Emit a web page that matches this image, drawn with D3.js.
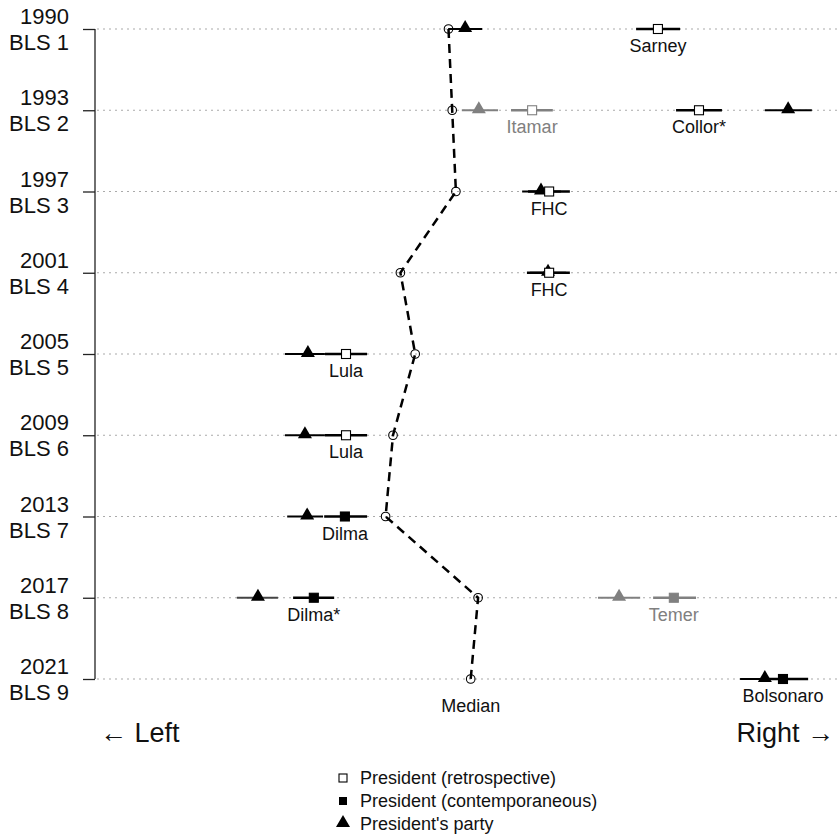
<!DOCTYPE html>
<html><head><meta charset="utf-8">
<script src="https://cdn.jsdelivr.net/npm/d3@7/dist/d3.min.js"></script>
<style>body{margin:0;background:#fff}svg{display:block}text{font-family:"Liberation Sans",Arial,sans-serif}</style>
</head><body><svg id="c" width="838" height="835"></svg>
<script>
// ---- data ----
const years = ["1990","1993","1997","2001","2005","2009","2013","2017","2021"];
const surveys = ["BLS 1","BLS 2","BLS 3","BLS 4","BLS 5","BLS 6","BLS 7","BLS 8","BLS 9"];
const medians = [-0.05,-0.04,-0.03,-0.18,-0.14,-0.20,-0.22,0.03,0.01];

const presRow   = [0,1,1,2,3,4,5,6,7,7,8];
const presName  = ["Sarney","Itamar","Collor*","FHC","FHC","Lula","Lula","Dilma","Dilma*","Temer","Bolsonaro"];
const presType  = ["retro","retro","retro","retro","retro","retro","retro","contemp","contemp","contemp","contemp"];
const presEst   = [0.516,0.176,0.627,0.222,0.222,-0.327,-0.327,-0.330,-0.414,0.559,0.854];
const presLo    = [0.457,0.119,0.565,0.165,0.162,-0.384,-0.384,-0.386,-0.470,0.503,0.797];
const presHi    = [0.576,0.232,0.689,0.278,0.278,-0.270,-0.270,-0.270,-0.359,0.619,0.922];
const presGray  = [false,true,false,false,false,false,false,false,false,true,false];

const partyRow  = [0,1,1,2,3,4,5,6,7,7,8];
const partyEst  = [-0.005,0.032,0.868,0.200,0.219,-0.430,-0.438,-0.432,-0.565,0.411,0.805];
const partyLo   = [-0.051,-0.014,0.805,0.149,0.170,-0.492,-0.492,-0.486,-0.622,0.354,0.738];
const partyHi   = [0.041,0.084,0.932,0.254,0.268,-0.384,-0.384,-0.389,-0.511,0.468,0.860];
const partyGray = [false,true,false,false,false,false,false,false,false,true,false];

const legendLabels = ["President (retrospective)","President (contemporaneous)","President's party"];

// ---- layout ----
const svg = d3.select("#c");
const x = d3.scaleLinear().domain([-1,1]).range([97,837]);
const y = d3.scalePoint().domain(d3.range(years.length)).range([29,679]);
const GRAY = "#808080";

// gridlines
svg.append("g").selectAll("line").data(d3.range(years.length)).join("line")
  .attr("x1",97).attr("x2",838).attr("y1",d=>y(d)).attr("y2",d=>y(d))
  .attr("stroke","#aaa").attr("stroke-width",1.2).attr("stroke-dasharray","2,4");

// y axis
const yAxis = d3.axisLeft(y).tickSize(12).tickFormat("");
const ag = svg.append("g").attr("transform","translate(95,0)").call(yAxis);
ag.select(".domain").attr("stroke","#222").attr("stroke-width",1.3).attr("d","M0,29V679");
ag.selectAll(".tick line").attr("stroke","#222").attr("stroke-width",1.3);
const lab = svg.append("g").selectAll("g").data(d3.range(years.length)).join("g");
lab.append("text").attr("x",69).attr("y",d=>y(d)-5).attr("text-anchor","end")
  .attr("font-size",22).attr("fill","#111").text(d=>years[d]);
lab.append("text").attr("x",69).attr("y",d=>y(d)+21).attr("text-anchor","end")
  .attr("font-size",22).attr("fill","#111").text(d=>surveys[d]);

// party CIs + triangles
const tri = d3.symbol().type(d3.symbolTriangle).size(85);
const pIdx = d3.range(partyRow.length);
svg.append("g").selectAll("line").data(pIdx).join("line")
  .attr("x1",i=>x(partyLo[i])).attr("x2",i=>x(partyHi[i]))
  .attr("y1",i=>y(partyRow[i])).attr("y2",i=>y(partyRow[i]))
  .attr("stroke",i=>partyGray[i]?GRAY:(i===8?"#444":"#000")).attr("stroke-width",2.2);
svg.append("g").selectAll("path").data(pIdx).join("path")
  .attr("d",tri).attr("transform",i=>`translate(${x(partyEst[i])},${y(partyRow[i])-1})`)
  .attr("fill",i=>partyGray[i]?GRAY:"#000");

// president CIs + squares
const prIdx = d3.range(presRow.length);
svg.append("g").selectAll("line").data(prIdx).join("line")
  .attr("x1",i=>x(presLo[i])).attr("x2",i=>x(presHi[i]))
  .attr("y1",i=>y(presRow[i])).attr("y2",i=>y(presRow[i]))
  .attr("stroke",i=>presGray[i]?GRAY:"#000").attr("stroke-width",2.6);
svg.append("g").selectAll("rect").data(prIdx).join("rect")
  .attr("x",i=>x(presEst[i])-4.5).attr("y",i=>y(presRow[i])-4.5)
  .attr("width",9).attr("height",9)
  .attr("fill",i=>presType[i]==="retro"?"#fff":(presGray[i]?GRAY:"#000"))
  .attr("stroke",i=>presGray[i]?GRAY:"#000").attr("stroke-width",1.1);
svg.append("g").selectAll("text").data(prIdx).join("text")
  .attr("x",i=>x(presEst[i])).attr("y",i=>y(presRow[i])+23)
  .attr("text-anchor","middle").attr("font-size",18)
  .attr("fill",i=>presGray[i]?GRAY:"#111").text(i=>presName[i]);

// median line
const mIdx = d3.range(medians.length);
svg.append("path").datum(mIdx)
  .attr("d",d3.line().x(i=>x(medians[i])).y(i=>y(i)))
  .attr("fill","none").attr("stroke","#000").attr("stroke-width",2.5).attr("stroke-dasharray","9,6");
svg.append("g").selectAll("circle").data(mIdx).join("circle")
  .attr("cx",i=>x(medians[i])).attr("cy",i=>y(i)).attr("r",4.3)
  .attr("fill","none").attr("stroke","#000").attr("stroke-width",1.1);
svg.append("text").attr("x",x(medians[8])).attr("y",712).attr("text-anchor","middle")
  .attr("font-size",18).attr("fill","#111").text("Median");

// Left / Right
svg.append("text").attr("x",100).attr("y",742).attr("font-size",27).attr("fill","#111").text("\u2190 Left");
svg.append("text").attr("x",834).attr("y",742).attr("text-anchor","end").attr("font-size",27).attr("fill","#111").text("Right \u2192");

// legend
const lg = svg.append("g");
const ly = [778,801,824];
lg.append("rect").attr("x",339).attr("y",ly[0]-4).attr("width",8).attr("height",8).attr("fill","#fff").attr("stroke","#000").attr("stroke-width",1.1);
lg.append("rect").attr("x",339).attr("y",ly[1]-4).attr("width",8).attr("height",8).attr("fill","#000");
lg.append("path").attr("d",tri).attr("transform",`translate(343,${ly[2]-1})`).attr("fill","#000");
lg.selectAll("text").data(legendLabels).join("text")
  .attr("x",360).attr("y",(d,i)=>ly[i]+6).attr("font-size",18).attr("fill","#111").text(d=>d);
</script></body></html>
